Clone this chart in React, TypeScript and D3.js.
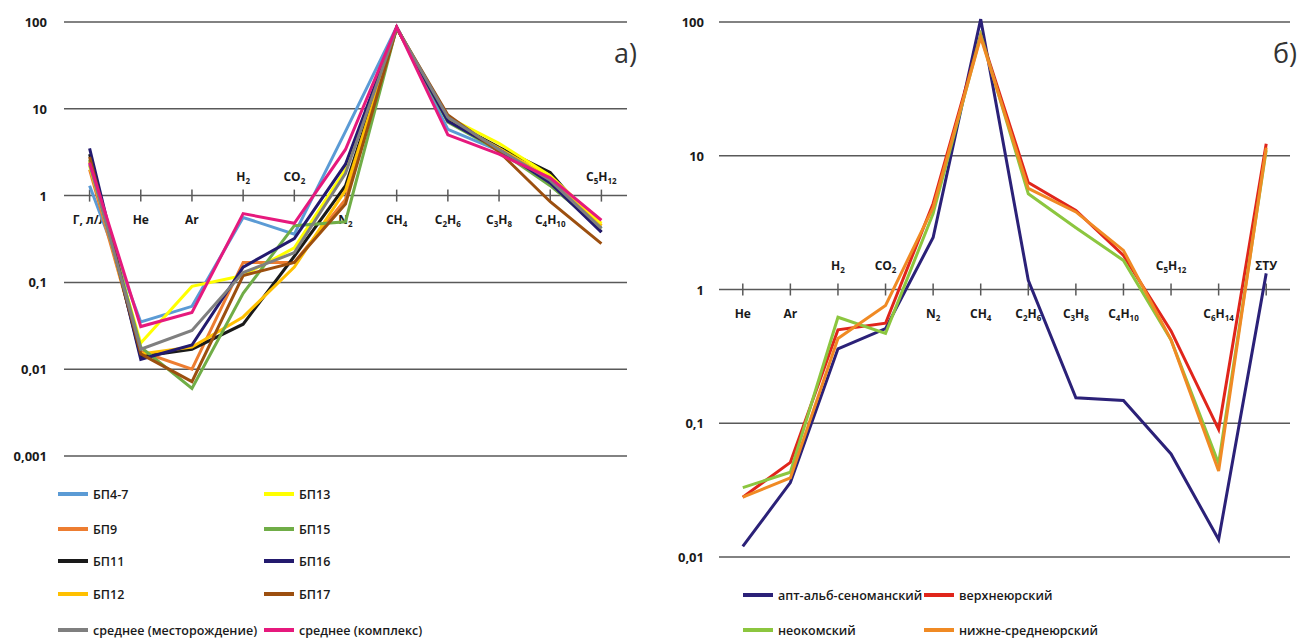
import { useEffect, useRef } from 'react';
import * as d3 from 'd3';

// ---- panel a) ----
const catsA = ['Г, л/л', 'He', 'Ar', 'H2', 'CO2', 'N2', 'CH4', 'C2H6', 'C3H8', 'C4H10', 'C5H12'];
const labelSideA = ['b', 'b', 'b', 't', 't', 'b', 'b', 'b', 'b', 'b', 't'];
const ticksA = [100, 10, 1, 0.1, 0.01, 0.001];

const bp4_7 = [1.3, 0.035, 0.053, 0.56, 0.36, 5.5, 88, 5.8, 3.3, 1.5, 0.42];
const bp9 = [2.0, 0.016, 0.010, 0.17, 0.17, 0.9, 85, 7.2, 3.4, 1.5, 0.45];
const bp11 = [3.0, 0.014, 0.017, 0.033, 0.2, 1.3, 85, 7.5, 3.6, 1.85, 0.38];
const bp12 = [2.5, 0.015, 0.018, 0.04, 0.15, 1.15, 85, 7.3, 3.5, 1.6, 0.45];
const bp13 = [2.2, 0.02, 0.09, 0.12, 0.25, 2.0, 86, 8.0, 4.0, 1.7, 0.48];
const bp15 = [2.6, 0.018, 0.006, 0.075, 0.45, 0.5, 86, 7.0, 3.3, 1.3, 0.42];
const bp16 = [3.5, 0.013, 0.019, 0.15, 0.32, 2.3, 87, 7.2, 3.4, 1.4, 0.38];
const bp17 = [2.8, 0.015, 0.0072, 0.12, 0.17, 0.8, 85, 8.5, 3.2, 0.85, 0.28];
const avgField = [2.3, 0.017, 0.028, 0.13, 0.22, 1.8, 86, 8.0, 3.4, 1.5, 0.42];
const avgComplex = [2.4, 0.031, 0.045, 0.62, 0.48, 3.4, 88, 5.0, 3.0, 1.6, 0.52];

const seriesA = [
  { name: 'БП4-7', color: '#5b9bd5', values: bp4_7 },
  { name: 'БП9', color: '#ed7d31', values: bp9 },
  { name: 'БП11', color: '#1a1a1a', values: bp11 },
  { name: 'БП12', color: '#ffc000', values: bp12 },
  { name: 'БП13', color: '#ffff00', values: bp13 },
  { name: 'БП15', color: '#70ad47', values: bp15 },
  { name: 'БП16', color: '#231a6e', values: bp16 },
  { name: 'БП17', color: '#9c4f0f', values: bp17 },
  { name: 'среднее (месторождение)', color: '#7f7f7f', values: avgField },
  { name: 'среднее (комплекс)', color: '#e6197d', values: avgComplex },
];
// legend order: two columns
const legendA = [
  ['БП4-7', 'БП9', 'БП11', 'БП12', 'среднее (месторождение)'],
  ['БП13', 'БП15', 'БП16', 'БП17', 'среднее (комплекс)'],
];

// ---- panel б) ----
const catsB = ['He', 'Ar', 'H2', 'CO2', 'N2', 'CH4', 'C2H6', 'C3H8', 'C4H10', 'C5H12', 'C6H14', 'ΣТУ'];
const labelSideB = ['b', 'b', 't', 't', 'b', 'b', 'b', 'b', 'b', 't', 'b', 't'];
const ticksB = [100, 10, 1, 0.1, 0.01];

const aptAlbSen = [0.012, 0.036, 0.36, 0.51, 2.45, 105, 1.17, 0.155, 0.148, 0.059, 0.0135, 1.32];
const upperJur = [0.028, 0.051, 0.5, 0.56, 4.4, 80, 6.3, 3.9, 1.8, 0.49, 0.09, 12.3];
const neocom = [0.033, 0.043, 0.62, 0.47, 3.7, 80, 5.2, 2.9, 1.65, 0.42, 0.05, 11];
const lowMidJur = [0.028, 0.039, 0.43, 0.76, 4.1, 77, 5.7, 3.8, 1.96, 0.42, 0.044, 11.5];

const seriesB = [
  { name: 'апт-альб-сеноманский', color: '#2b2178', values: aptAlbSen },
  { name: 'верхнеюрский', color: '#e0251b', values: upperJur },
  { name: 'неокомский', color: '#8cc63f', values: neocom },
  { name: 'нижне-среднеюрский', color: '#f08a24', values: lowMidJur },
];
const legendB = [
  ['апт-альб-сеноманский', 'неокомский'],
  ['верхнеюрский', 'нижне-среднеюрский'],
];

const fmt = (v: number) => String(v).replace('.', ',');

function formula(sel: any, label: string) {
  // digits become subscripts
  const parts = label.match(/\d+|\D+/g) || [];
  let prevSub = false;
  parts.forEach((p: string) => {
    const isSub = /^\d+$/.test(p);
    sel.append('tspan')
      .attr('font-size', isSub ? 8 : 12)
      .attr('dy', isSub ? 3 : prevSub ? -3 : 0)
      .text(p);
    prevSub = isSub;
  });
}

function drawPanel(svg: any, cfg: any) {
  const { cats, sides, ticks, series, x0, x1, yTop, yBottom, domain, labelX, tag, tagX, belowY, aboveY } = cfg;
  const x = d3.scalePoint().domain(cats.map((_: any, i: number) => String(i))).range([x0, x1]).padding(0.5);
  const y = d3.scaleLog().domain(domain).range([yBottom, yTop]);
  const g = svg.append('g');

  // gridlines
  ticks.forEach((t: number) => {
    g.append('line')
      .attr('x1', x0).attr('x2', x1)
      .attr('y1', y(t)).attr('y2', y(t))
      .attr('stroke', '#595959').attr('stroke-width', 1.5);
    g.append('text')
      .attr('x', labelX).attr('y', y(t) + 5)
      .attr('text-anchor', 'end')
      .attr('font-size', 13).attr('font-weight', 700)
      .attr('fill', '#1a1a1a')
      .text(fmt(t));
  });

  // category axis at 1
  cats.forEach((c: string, i: number) => {
    const cx = x(String(i)) as number;
    g.append('line')
      .attr('x1', cx).attr('x2', cx)
      .attr('y1', y(1) - 6).attr('y2', y(1) + 6)
      .attr('stroke', '#595959').attr('stroke-width', 1.5);
    const t = g.append('text')
      .attr('x', cx).attr('y', sides[i] === 't' ? aboveY : belowY)
      .attr('text-anchor', 'middle')
      .attr('font-size', 12)
      .attr('font-weight', 700)
      .attr('fill', '#1a1a1a');
    formula(t, c);
  });

  const line = d3.line<number>()
    .x((_, i) => x(String(i)) as number)
    .y(d => y(d));

  series.forEach((s: any) => {
    g.append('path')
      .datum(s.values)
      .attr('fill', 'none')
      .attr('stroke', s.color)
      .attr('stroke-width', 3)
      .attr('d', line);
  });

  g.append('text')
    .attr('x', tagX).attr('y', yTop + 41)
    .attr('text-anchor', 'end')
    .attr('font-size', 27)
    .attr('fill', '#333')
    .text(tag);
}

function drawLegend(svg: any, cols: string[][], series: any[], colX: number[], rowY: number[]) {
  cols.forEach((col, ci) => {
    col.forEach((name, ri) => {
      const s = series.find(d => d.name === name);
      const gy = rowY[ri];
      svg.append('line')
        .attr('x1', colX[ci]).attr('x2', colX[ci] + 30)
        .attr('y1', gy).attr('y2', gy)
        .attr('stroke', s.color).attr('stroke-width', 4);
      svg.append('text')
        .attr('x', colX[ci] + 35).attr('y', gy + 5)
        .attr('font-size', 12.5).attr('font-weight', 600)
        .attr('fill', '#1a1a1a')
        .text(name);
    });
  });
}

export default function App() {
  const ref = useRef<SVGSVGElement>(null);

  useEffect(() => {
    if (!ref.current) return;
    const svg = d3.select(ref.current);
    svg.selectAll('*').remove();
    svg.style('font-family', '"Open Sans", sans-serif');

    drawPanel(svg, {
      cats: catsA, sides: labelSideA, ticks: ticksA, series: seriesA,
      x0: 64, x1: 627, yTop: 22, yBottom: 456, domain: [0.001, 100],
      labelX: 47, tag: 'а)', tagX: 637, belowY: 224, aboveY: 181,
    });
    drawPanel(svg, {
      cats: catsB, sides: labelSideB, ticks: ticksB, series: seriesB,
      x0: 719, x1: 1290, yTop: 22, yBottom: 557, domain: [0.01, 100],
      labelX: 704, tag: 'б)', tagX: 1297, belowY: 318, aboveY: 270,
    });

    drawLegend(svg, legendA, seriesA, [58, 264], [494, 529, 561, 594, 630]);
    drawLegend(svg, legendB, seriesB, [743, 924], [595, 630]);
  }, []);

  return (
    <svg
      ref={ref}
      width={1307}
      height={638}
      style={{ position: 'absolute', left: 0, top: 0, background: '#fff' }}
    />
  );
}
